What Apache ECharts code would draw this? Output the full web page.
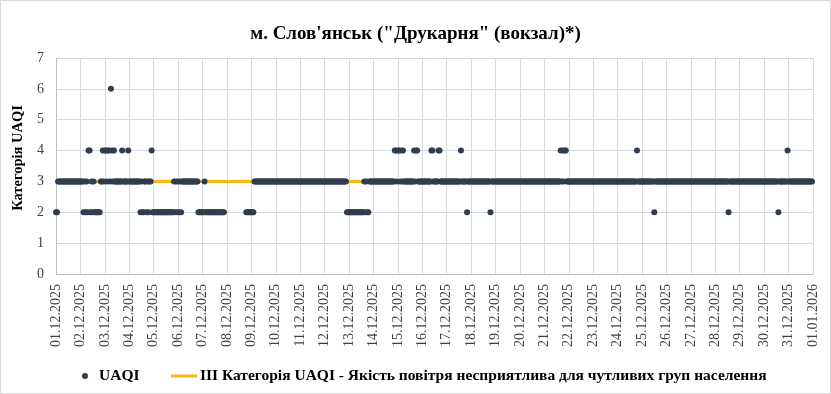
<!DOCTYPE html>
<html><head><meta charset="utf-8">
<script src="https://cdn.jsdelivr.net/npm/echarts@6/dist/echarts.min.js"></script>
<style>
html,body{margin:0;padding:0;background:#fff}
#c{width:831px;height:394px}
#f{position:absolute;left:0;top:0;width:831px;height:394px;box-sizing:border-box;border:1px solid #d9d9d9;pointer-events:none}
</style>
</head><body><div id="c"></div><div id="f"></div>
<script>
const titleText = 'м. Слов\'янськ ("Друкарня" (вокзал)*)';
const yAxisName = 'Категорія UAQI';
const seriesNameUAQI = 'UAQI';
const seriesNameIII = 'III Категорія UAQI - Якість повітря несприятлива для чутливих груп населення';
const dayLabels = ['01.12.2025','02.12.2025','03.12.2025','04.12.2025','05.12.2025','06.12.2025','07.12.2025','08.12.2025','09.12.2025','10.12.2025','11.12.2025','12.12.2025','13.12.2025','14.12.2025','15.12.2025','16.12.2025','17.12.2025','18.12.2025','19.12.2025','20.12.2025','21.12.2025','22.12.2025','23.12.2025','24.12.2025','25.12.2025','26.12.2025','27.12.2025','28.12.2025','29.12.2025','30.12.2025','31.12.2025','01.01.2026'];
const yTicks = [0,1,2,3,4,5,6,7];
const categoryIII = 3;
// hourly UAQI from 01.12.2025 00:00, as [value, number of consecutive hours]; null = no data
const uaqiRuns = [
  [2,2],[3,25],[2,1],[3,1],[2,1],[3,1],[2,1],[4,2],[2,1],[3,1],[2,1],[3,1],[2,6],
  [3,2],[4,1],[3,1],[4,2],[3,1],[4,2],[3,1],[6,1],[4,1],[3,1],[4,1],[3,7],[4,1],[3,5],[4,1],
  [3,11],[2,1],[3,1],[2,2],[3,2],[2,1],[3,1],[2,1],[3,2],[4,1],[2,21],
  [3,1],[2,1],[3,1],[2,1],[3,1],[2,1],[3,1],[2,1],[3,16],[2,6],[3,1],[2,19],[null,21],[2,8],
  [3,91],[2,17],[3,1],[2,1],[3,1],[2,2],[3,25],
  [4,2],[3,1],[4,2],[3,1],[4,1],[3,1],[4,1],[3,10],[4,1],[3,1],[4,2],[3,13],[4,2],[3,5],[4,2],
  [3,20],[4,1],[3,5],[2,1],[3,22],[2,1],[3,68],[4,1],[3,1],[4,1],[3,1],[4,2],
  [3,69],[4,1],[3,16],[2,1],[3,72],[2,1],[3,48],[2,1],[3,8],[4,1],[3,24]
];
const HOURS_PER_DAY = 24;

const uaqiData = [];
let hour = 0;
uaqiRuns.forEach(([v, n]) => {
  for (let i = 0; i < n; i++) {
    if (v !== null) uaqiData.push([hour, v]);
    hour++;
  }
});
const hourCount = hour;
const lineData = [];
for (let h = 0; h < hourCount; h++) lineData.push([h, categoryIII]);

const serif = 'Liberation Serif';
const chart = echarts.init(document.getElementById('c'), null, {renderer: 'canvas'});
chart.setOption({
  animation: false,
  backgroundColor: '#fff',
  title: {
    text: titleText, left: 'center', top: 20,
    textStyle: {fontFamily: serif, fontWeight: 'bold', fontSize: 19, color: '#000'}
  },
  legend: [
    {data: [seriesNameUAQI], left: 77, top: 363, icon: 'circle', itemWidth: 6, itemHeight: 6,
     textStyle: {fontFamily: serif, fontWeight: 'bold', fontSize: 15.5, color: '#000', padding: [0,0,0,6]}},
    {data: [seriesNameIII], left: 166, top: 363, icon: 'rect', itemWidth: 26, itemHeight: 3,
     textStyle: {fontFamily: serif, fontWeight: 'bold', fontSize: 15.5, color: '#000', padding: [0,0,0,-2]}}
  ],
  grid: {left: 56, right: 18, top: 58, bottom: 120},
  xAxis: {
    type: 'value', min: 0, max: (dayLabels.length - 1) * HOURS_PER_DAY, interval: HOURS_PER_DAY,
    axisLine: {show: true, lineStyle: {color: '#bfbfbf'}},
    axisTick: {show: false},
    axisLabel: {
      rotate: 90, margin: 10, fontFamily: serif, fontSize: 14, color: '#404040',
      showMinLabel: true, showMaxLabel: true,
      formatter: v => dayLabels[Math.round(v / HOURS_PER_DAY)]
    },
    splitLine: {show: true, lineStyle: {color: '#d9d9d9'}}
  },
  yAxis: {
    type: 'value', min: yTicks[0], max: yTicks[yTicks.length - 1], interval: 1,
    name: yAxisName, nameLocation: 'middle', nameGap: 30,
    nameTextStyle: {fontFamily: serif, fontWeight: 'bold', fontSize: 14.5, color: '#000', padding: [0,0,0,16]},
    axisLine: {show: true, lineStyle: {color: '#bfbfbf'}},
    axisTick: {show: false},
    axisLabel: {margin: 12, fontFamily: serif, fontSize: 14, color: '#404040'},
    splitLine: {show: true, lineStyle: {color: '#d3d9e4'}}
  },
  series: [
    {name: seriesNameIII, type: 'line', data: lineData, showSymbol: false, symbol: 'none',
     lineStyle: {color: '#f4b915', width: 3}, itemStyle: {color: '#f4b915'}, z: 2},
    {name: seriesNameUAQI, type: 'scatter', data: uaqiData, symbolSize: 6,
     itemStyle: {color: '#313d4e', opacity: 1}, z: 3}
  ]
});
</script>
</body></html>
